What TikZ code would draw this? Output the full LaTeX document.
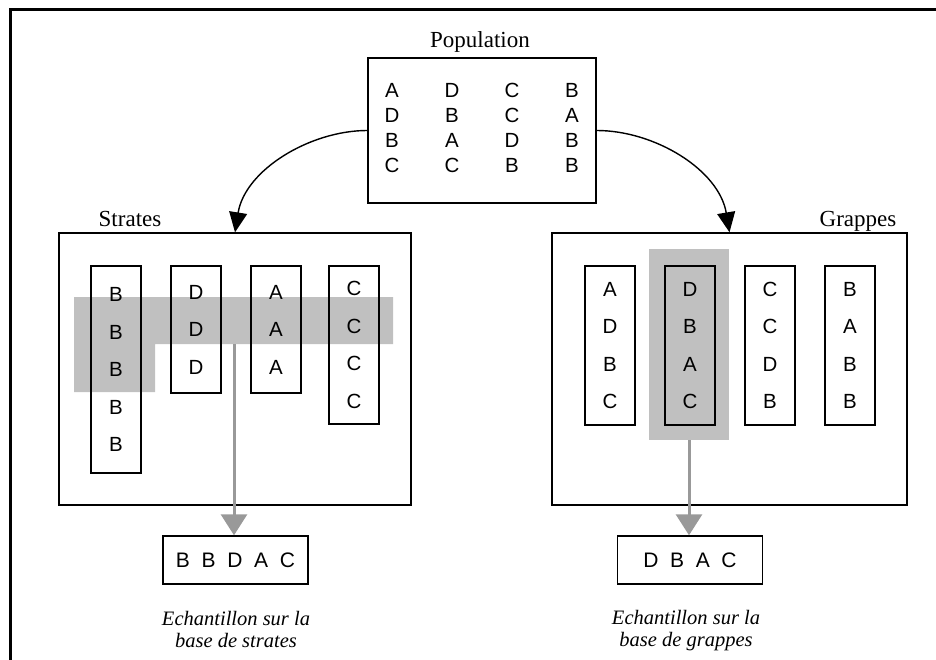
\documentclass[tikz,border=0pt]{standalone}
\usepackage{fontspec}
\usepackage{array}
\setmainfont{Liberation Serif}
\newfontfamily\arialfont{Liberation Sans}
\newfontfamily\sampfont[WordSpace=2]{Liberation Sans}
\usetikzlibrary{positioning,arrows.meta}
\definecolor{hlgray}{HTML}{C0C0C0}
\definecolor{arrgray}{HTML}{999999}
\newcommand{\letfont}{\arialfont\fontsize{20.5}{37.5}\selectfont}
\newcommand{\titfont}{\fontsize{23}{26}\selectfont}

\begin{document}
\begin{tikzpicture}[x=1pt, y=-1pt,
    every node/.style={inner sep=0pt},
    frameline/.style={line width=2.4pt},
    box/.style={draw, line width=1.4pt, align=center},
    col/.style={draw, line width=1.4pt, minimum width=50pt, align=center, font=\letfont},
    hl/.style={fill=hlgray},
    carr/.style={line width=1.4pt, -{Triangle[length=20pt, width=18pt]}},
    garr/.style={draw=arrgray, line width=3pt, -{Triangle[length=21pt, width=26pt]}},
    sampbox/.style={box, minimum width=145pt, minimum height=48pt, font=\sampfont\fontsize{21}{24}\selectfont},
    captext/.style={align=center, font=\itshape\fontsize{20.5}{22}\selectfont},
]
\useasboundingbox (0,0) rectangle (936,660);
\draw[frameline] (10.5,660) -- (10.5,9.5) -- (936,9.5);

% population
\node[anchor=base, font=\titfont] (ptitle) at (480,48) {Population};
\node[box, minimum width=210pt, minimum height=145pt] (pop) at (482,130.5)
  {\arialfont\fontsize{20.5}{25}\selectfont
   \begin{tabular}{@{}*{4}{w{c}{48pt}}@{}}
   A & D & C & B\\ D & B & C & A\\ B & A & D & B\\ C & C & B & B
   \end{tabular}};

% strates
\node[anchor=base, font=\titfont] (stitle) at (130,226) {Strates};
\node[box, minimum width=352pt, minimum height=272pt] (strat) at (235,369) {};
\fill[hl] (74,297) -- (393,297) -- (393,344) -- (155,344) -- (155,392) -- (74,392) -- cycle;
\coordinate (sfoot) at (234,344);
\node[col, minimum height=207pt] (s1) at (116,369.5) {B\\B\\B\\B\\B};
\node[col, minimum height=127pt] (s2) at (196,329.5) {D\\D\\D};
\node[col, minimum height=127pt] (s3) at (276,329.5) {A\\A\\A};
\node[col, minimum height=158pt] (s4) at (354,345) {C\\C\\C\\C};

% grappes
\node[anchor=base, font=\titfont] (gtitle) at (858,226) {Grappes};
\node[box, minimum width=355pt, minimum height=272pt] (grap) at (729.5,369) {};
\node[hl, minimum width=80pt, minimum height=191pt] (ghl) at (689,344.5) {};
\node[col, minimum height=159pt] (g1) at (610,345.5) {A\\D\\B\\C};
\node[col, minimum height=159pt] (g2) at (690,345.5) {D\\B\\A\\C};
\node[col, minimum height=159pt] (g3) at (770,345.5) {C\\C\\D\\B};
\node[col, minimum height=159pt] (g4) at (850,345.5) {B\\A\\B\\B};

% samples
\node[sampbox] (samp1) at (235.5,560) {B B D A C};
\node[sampbox] (samp2) at (690,560) {D B A C};
\node[captext] (cap1) at (236,629) {Echantillon sur la\\base de strates};
\node[captext] (cap2) at (686,631) {Echantillon sur la\\base de grappes};

\draw[carr] (pop.west) .. controls (310,130.5) and (245,170) .. (strat.north);
\draw[carr] (pop.east) .. controls (655,130.5) and (719,170) .. (grap.north);
\draw[garr] (sfoot) -- (sfoot |- samp1.north);
\draw[garr] (ghl.south) -- (ghl.south |- samp2.north);
\end{tikzpicture}
\end{document}
